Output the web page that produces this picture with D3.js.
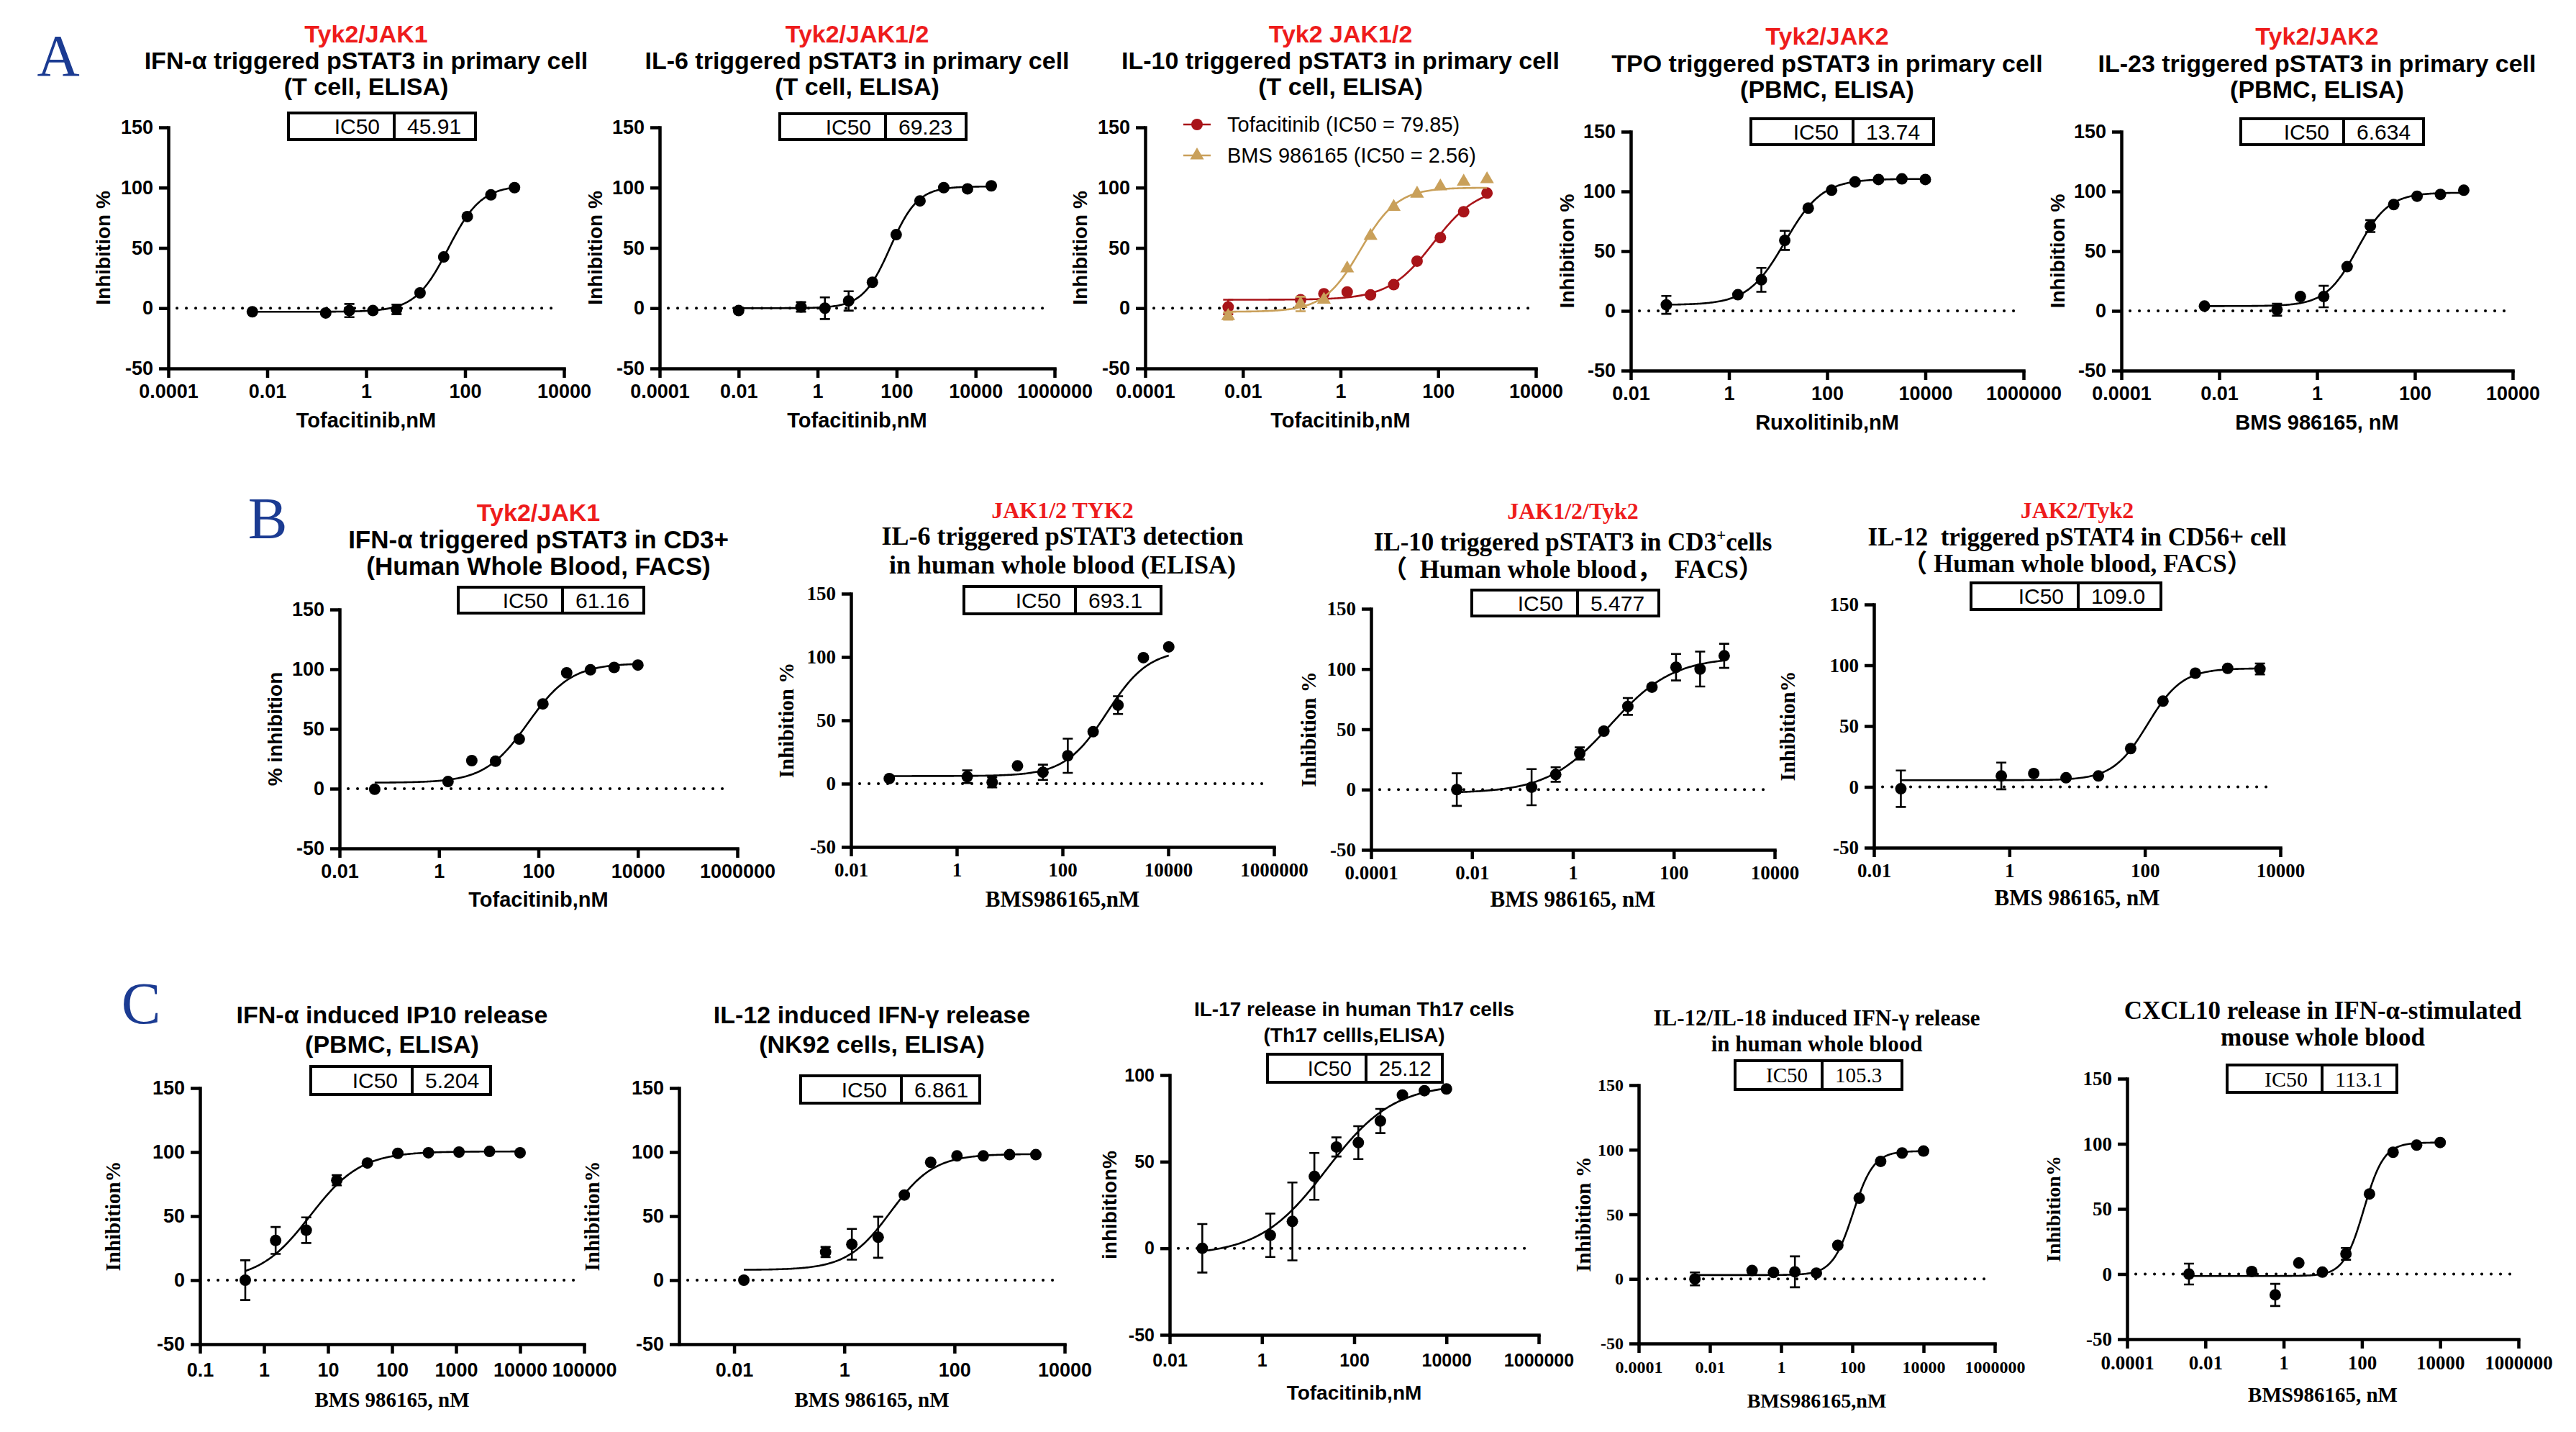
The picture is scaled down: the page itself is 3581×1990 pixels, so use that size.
<!DOCTYPE html>
<html><head><meta charset="utf-8">
<script src="https://cdn.jsdelivr.net/npm/d3@7"></script>
<style>body{margin:0;background:#fff}svg{display:block}text{white-space:pre}</style>
</head><body>
<svg id="c" width="3581" height="1990" xmlns="http://www.w3.org/2000/svg"></svg>
<script>
// ---------------- DATA ----------------
const xTicks8 = [1e-4, 1e-2, 1, 100, 1e4];
const xTicks10 = [1e-4, 1e-2, 1, 100, 1e4, 1e6];
const xTicks8b = [1e-2, 1, 100, 1e4, 1e6];
const xTicks6 = [1e-2, 1, 100, 1e4];
const xTicksC1 = [0.1, 1, 10, 100, 1000, 10000, 100000];
const yTicks = [-50, 0, 50, 100, 150];
const yTicksC3 = [-50, 0, 50, 100];

const ic50Labels = ['45.91','69.23','13.74','6.634','61.16','693.1','5.477','109.0','5.204','6.861','25.12','105.3','113.1'];
const legendA3 = ['Tofacitinib (IC50 = 79.85)', 'BMS 986165 (IC50 = 2.56)'];

// fit params: [bottom, top, logIC50, hill]
const concA1 = [0.005, 0.152, 0.457, 1.37, 4.12, 12.3, 37, 111, 333, 1000];
const inhA1  = [-3, -4, -2, -2, -1, 12.7, 42.5, 76, 94, 100];
const errA1  = [0, 0, 5.5, 0, 4, 0, 0, 0, 0, 0];
const fitA1  = [-3, 102, 1.66, 1.3];

const concA2 = [0.01, 0.38, 1.53, 6.1, 24.4, 97.7, 391, 1563, 6250, 25000];
const inhA2  = [-2, 1, 0, 6, 21.5, 61, 89, 100, 99, 101.5];
const errA2  = [0, 4, 9, 8, 0, 0, 0, 0, 0, 0];
const fitA2  = [0, 101, 1.84, 1.25];

const concA3 = [0.005, 0.152, 0.457, 1.37, 4.12, 12.3, 37, 111, 333, 1000];
const inhA3Tofa = [1, 7, 12, 13.5, 11, 19.5, 39, 58.5, 80, 95.5];
const errA3Tofa = [6, 0, 0, 0, 0, 0, 0, 0, 0, 0];
const fitA3Tofa = [7, 101, 1.90, 0.95];
const inhA3Bms  = [-6.5, 3.5, 7, 33, 60, 84, 95, 101, 105, 107];
const errA3Bms  = [3, 6, 0, 0, 0, 0, 0, 0, 0, 0];
const fitA3Bms  = [-3, 100, 0.41, 1.15];

const concA4 = [0.053, 1.52, 4.57, 13.7, 41.2, 123, 370, 1111, 3333, 10000];
const inhA4  = [5, 13.5, 26, 59, 86, 101, 108, 110, 110.5, 110];
const errA4  = [7.5, 0, 10, 8, 0, 0, 0, 0, 0, 0];
const fitA4  = [5, 110.5, 1.14, 1.15];

const concA5 = [0.005, 0.152, 0.457, 1.37, 4.12, 12.3, 37, 111, 333, 1000];
const inhA5  = [4, 1, 12, 12, 37, 71, 89, 96, 97.5, 101];
const errA5  = [0, 5, 0, 9, 0, 5, 0, 0, 0, 0];
const fitA5  = [4, 99, 0.82, 1.35];

const concB1 = [0.051, 1.52, 4.57, 13.7, 41.2, 123, 370, 1111, 3333, 10000];
const inhB1  = [-0.5, 6, 23.5, 23, 41.5, 71, 97, 99.5, 101.5, 103.5];
const errB1  = [0, 0, 0, 0, 0, 0, 0, 0, 0, 0];
const fitB1  = [5, 105, 1.79, 1.0];

const concB2 = [0.053, 1.58, 4.68, 14.1, 42.7, 126, 380, 1122, 3388, 10233];
const inhB2  = [4, 5.5, 1, 14, 9, 22, 41, 62, 99.5, 108];
const errB2  = [0, 5, 4, 0, 6, 13.5, 0, 7, 0, 0];
const fitB2  = [6, 106, 2.84, 1.1];

const concB3 = [0.005, 0.152, 0.457, 1.37, 4.12, 12.3, 37, 111, 333, 1000];
const inhB3  = [0, 2, 12.5, 30, 48.5, 69, 85, 101.5, 100, 111];
const errB3  = [13.5, 15, 6, 5, 0, 7, 0, 11, 14.5, 10];
const fitB3  = [-3, 110, 0.74, 0.7];

const concB4 = [0.025, 0.76, 2.29, 6.86, 20.6, 61.7, 185, 556, 1667, 5000];
const inhB4  = [-1.5, 9, 11, 7.5, 9, 31.5, 70.5, 93.5, 97.5, 97];
const errB4  = [15, 11, 0, 0, 0, 0, 0, 0, 0, 4.5];
const fitB4  = [5.5, 97.5, 2.04, 1.7];

const concC1 = [0.51, 1.52, 4.57, 13.7, 41.2, 123, 370, 1111, 3333, 10000];
const inhC1  = [0, 31, 39, 78, 91.5, 99, 99.5, 100, 100.5, 99.5];
const errC1  = [15.5, 10.5, 10, 4, 0, 0, 0, 0, 0, 0];
const fitC1  = [0, 100.5, 0.72, 1.1];

const concC2 = [0.015, 0.457, 1.37, 4.12, 12.3, 37, 111, 333, 1000, 3000];
const inhC2  = [0, 22, 28, 33.5, 66.5, 92, 97, 97, 98, 98];
const errC2  = [0, 4, 12, 16, 0, 0, 0, 0, 0, 0];
const fitC2  = [8, 98.5, 0.84, 1.1];

const concC3 = [0.051, 1.52, 4.57, 13.7, 41.2, 123, 370, 1111, 3333, 10000];
const inhC3  = [0, 7.5, 15.5, 41.5, 58.5, 61, 73.5, 88.5, 91, 92];
const errC3  = [14, 12.5, 22.5, 13.5, 5.5, 9.5, 7, 0, 0, 0];
const fitC3  = [-4, 95, 1.40, 0.6];

const concC4 = [0.0038, 0.153, 0.61, 2.44, 9.77, 39.1, 156, 625, 2500, 10000];
const inhC4  = [0, 6.5, 5, 5.5, 4.5, 26, 62.5, 91, 97.5, 99];
const errC4  = [5, 0, 0, 12, 0, 0, 0, 0, 0, 0];
const fitC4  = [3, 99, 2.02, 1.5];

const concC5 = [0.0038, 0.153, 0.61, 2.44, 9.77, 39.1, 156, 625, 2500, 10000];
const inhC5  = [0, 2, -16, 8.5, 1.5, 15.5, 61.5, 93.5, 99, 101];
const errC5  = [8, 0, 8.5, 0, 0, 4.5, 0, 0, 0, 0];
const fitC5  = [-1.5, 101, 2.05, 1.7];

// ---------------- STYLE / LAYOUT ----------------
const SANS = "'Liberation Sans', Arial, Helvetica, sans-serif";
const SERIF = "'Liberation Serif', 'Times New Roman', 'Noto Sans CJK SC', serif";
const RED = '#ee1c1c';
const BLUE = '#1b3b92';
const TOFA = '#a81419';
const BMS = '#c9a05a';
const MR = 8;

const layout = [
 {x0:234,x1:784,yT:177,yB:512,xDom:[1e-4,1e4],xt:xTicks8,yDom:[-50,150],yt:yTicks,
  red:'Tyk2/JAK1',redY:59,redF:SANS,redS:34,lines:['IFN-α triggered pSTAT3 in primary cell','(T cell, ELISA)'],lineY:[96,132],tF:SANS,tS:34,
  box:[401,157,661,194,548],bF:SANS,bS:30,val:ic50Labels[0],
  yTitle:'Inhibition %',yTX:143,yTF:SANS,yTS:28,xTitle:'Tofacitinib,nM',xTY:594,xTF:SANS,xTS:29,tkF:SANS,tkS:27,tkOff:41,
  series:[{conc:concA1,y:inhA1,err:errA1,fit:fitA1,color:'#000',shape:'circle'}]},
 {x0:917,x1:1466,yT:177,yB:512,xDom:[1e-4,1e6],xt:xTicks10,yDom:[-50,150],yt:yTicks,
  red:'Tyk2/JAK1/2',redY:59,redF:SANS,redS:34,lines:['IL-6 triggered pSTAT3 in primary cell','(T cell, ELISA)'],lineY:[96,132],tF:SANS,tS:34,
  box:[1084,158,1343,194,1231],bF:SANS,bS:30,val:ic50Labels[1],
  yTitle:'Inhibition %',yTX:827,yTF:SANS,yTS:28,xTitle:'Tofacitinib,nM',xTY:594,xTF:SANS,xTS:29,tkF:SANS,tkS:27,tkOff:41,
  series:[{conc:concA2,y:inhA2,err:errA2,fit:fitA2,color:'#000',shape:'circle'}]},
 {x0:1592,x1:2135,yT:177,yB:512,xDom:[1e-4,1e4],xt:xTicks8,yDom:[-50,150],yt:yTicks,
  red:'Tyk2 JAK1/2',redY:59,redF:SANS,redS:34,lines:['IL-10 triggered pSTAT3 in primary cell','(T cell, ELISA)'],lineY:[96,132],tF:SANS,tS:34,
  legend:true,
  yTitle:'Inhibition %',yTX:1501,yTF:SANS,yTS:28,xTitle:'Tofacitinib,nM',xTY:594,xTF:SANS,xTS:29,tkF:SANS,tkS:27,tkOff:41,
  series:[{conc:concA3,y:inhA3Tofa,err:errA3Tofa,fit:fitA3Tofa,color:TOFA,shape:'circle'},
          {conc:concA3,y:inhA3Bms,err:errA3Bms,fit:fitA3Bms,color:BMS,shape:'triangle'}]},
 {x0:2267,x1:2813,yT:183,yB:515,xDom:[1e-2,1e6],xt:xTicks8b,yDom:[-50,150],yt:yTicks,
  red:'Tyk2/JAK2',redY:62,redF:SANS,redS:34,lines:['TPO triggered pSTAT3 in primary cell','(PBMC, ELISA)'],lineY:[100,136],tF:SANS,tS:34,
  box:[2434,165,2688,201,2576],bF:SANS,bS:30,val:ic50Labels[2],
  yTitle:'Inhibition %',yTX:2178,yTF:SANS,yTS:28,xTitle:'Ruxolitinib,nM',xTY:597,xTF:SANS,xTS:29,tkF:SANS,tkS:27,tkOff:41,
  series:[{conc:concA4,y:inhA4,err:errA4,fit:fitA4,color:'#000',shape:'circle'}]},
 {x0:2949,x1:3493,yT:183,yB:515,xDom:[1e-4,1e4],xt:xTicks8,yDom:[-50,150],yt:yTicks,
  red:'Tyk2/JAK2',redY:62,redF:SANS,redS:34,lines:['IL-23 triggered pSTAT3 in primary cell','(PBMC, ELISA)'],lineY:[100,136],tF:SANS,tS:34,
  box:[3115,165,3369,201,3258],bF:SANS,bS:30,val:ic50Labels[3],
  yTitle:'Inhibition %',yTX:2860,yTF:SANS,yTS:28,xTitle:'BMS 986165, nM',xTY:597,xTF:SANS,xTS:29,tkF:SANS,tkS:27,tkOff:41,
  series:[{conc:concA5,y:inhA5,err:errA5,fit:fitA5,color:'#000',shape:'circle'}]},
 // Row B
 {x0:472,x1:1025,yT:847,yB:1179,xDom:[1e-2,1e6],xt:xTicks8b,yDom:[-50,150],yt:yTicks,
  red:'Tyk2/JAK1',redY:724,redF:SANS,redS:34,lines:['IFN-α triggered pSTAT3 in CD3+','(Human Whole Blood, FACS)'],lineY:[762,799],tF:SANS,tS:35,
  box:[637,816,895,852,782],bF:SANS,bS:30,val:ic50Labels[4],
  yTitle:'% inhibition',yTX:382,yTF:SANS,yTS:28,xTitle:'Tofacitinib,nM',xTY:1260,xTF:SANS,xTS:29,tkF:SANS,tkS:27,tkOff:41,
  series:[{conc:concB1,y:inhB1,err:errB1,fit:fitB1,color:'#000',shape:'circle'}]},
 {x0:1183,x1:1771,yT:825,yB:1177,xDom:[1e-2,1e6],xt:xTicks8b,yDom:[-50,150],yt:yTicks,
  red:'JAK1/2 TYK2',redY:720,redF:SERIF,redS:32,lines:['IL-6 triggered pSTAT3 detection','in human whole blood (ELISA)'],lineY:[757,797],tF:SERIF,tS:36,
  box:[1340,815,1614,853,1495],bF:SANS,bS:30,val:ic50Labels[5],
  yTitle:'Inhibition %',yTX:1093,yTF:SERIF,yTS:29,xTitle:'BMS986165,nM',xTY:1260,xTF:SERIF,xTS:31,tkF:SERIF,tkS:27,tkOff:41,
  series:[{conc:concB2,y:inhB2,err:errB2,fit:fitB2,color:'#000',shape:'circle'}]},
 {x0:1906,x1:2467,yT:846,yB:1181,xDom:[1e-4,1e4],xt:xTicks8,yDom:[-50,150],yt:yTicks,
  red:'JAK1/2/Tyk2',redY:721,redF:SERIF,redS:32,lines:[['IL-10 triggered pSTAT3 in CD3',{sup:'+'},'cells'],'（  Human whole blood，  FACS）'],lineY:[765,803],tF:SERIF,tS:35,
  box:[2046,820,2306,856,2193],bF:SANS,bS:30,val:ic50Labels[6],
  yTitle:'Inhibition %',yTX:1819,yTF:SERIF,yTS:29,xTitle:'BMS 986165, nM',xTY:1260,xTF:SERIF,xTS:31,tkF:SERIF,tkS:27,tkOff:41,
  series:[{conc:concB3,y:inhB3,err:errB3,fit:fitB3,color:'#000',shape:'circle'}]},
 {x0:2605,x1:3170,yT:840,yB:1178,xDom:[1e-2,1e4],xt:xTicks6,yDom:[-50,150],yt:yTicks,
  red:'JAK2/Tyk2',redY:720,redF:SERIF,redS:32,lines:['IL-12  triggered pSTAT4 in CD56+ cell','（ Human whole blood, FACS）'],lineY:[758,795],tF:SERIF,tS:35,
  box:[2740,810,3004,847,2889],bF:SANS,bS:30,val:ic50Labels[7],
  yTitle:'Inhibition%',yTX:2485,yTF:SERIF,yTS:29,xTitle:'BMS 986165, nM',xTY:1258,xTF:SERIF,xTS:31,tkF:SERIF,tkS:27,tkOff:41,
  series:[{conc:concB4,y:inhB4,err:errB4,fit:fitB4,color:'#000',shape:'circle'}]},
 // Row C
 {x0:278,x1:812,yT:1512,yB:1868,xDom:[0.1,1e5],xt:xTicksC1,yDom:[-50,150],yt:yTicks,
  lines:['IFN-α induced IP10 release','(PBMC, ELISA)'],lineY:[1422,1463],tF:SANS,tS:34,
  box:[432,1482,682,1521,573],bF:SANS,bS:30,val:ic50Labels[8],
  yTitle:'Inhibition%',yTX:157,yTF:SERIF,yTS:29,xTitle:'BMS 986165, nM',xTY:1955,xTF:SERIF,xTS:29,tkF:SANS,tkS:27,tkOff:45,
  series:[{conc:concC1,y:inhC1,err:errC1,fit:fitC1,color:'#000',shape:'circle'}]},
 {x0:944,x1:1480,yT:1512,yB:1868,xDom:[1e-3,1e4],xt:xTicks6,yDom:[-50,150],yt:yTicks,
  lines:['IL-12 induced IFN-γ release','(NK92 cells, ELISA)'],lineY:[1422,1463],tF:SANS,tS:34,
  box:[1113,1495,1362,1533,1253],bF:SANS,bS:30,val:ic50Labels[9],
  yTitle:'Inhibition%',yTX:823,yTF:SERIF,yTS:29,xTitle:'BMS 986165, nM',xTY:1955,xTF:SERIF,xTS:29,tkF:SANS,tkS:27,tkOff:45,
  series:[{conc:concC2,y:inhC2,err:errC2,fit:fitC2,color:'#000',shape:'circle'}]},
 {x0:1626,x1:2139,yT:1494,yB:1855,xDom:[1e-2,1e6],xt:xTicks8b,yDom:[-50,100],yt:yTicksC3,
  lines:['IL-17 release in human Th17 cells','(Th17 cellls,ELISA)'],lineY:[1412,1448],tF:SANS,tS:28,
  box:[1762,1465,2005,1504,1899],bF:SANS,bS:29,val:ic50Labels[10],
  yTitle:'inhibition%',yTX:1542,yTF:SANS,yTS:28,xTitle:'Tofacitinib,nM',xTY:1945,xTF:SANS,xTS:28,tkF:SANS,tkS:25,tkOff:44,
  series:[{conc:concC3,y:inhC3,err:errC3,fit:fitC3,color:'#000',shape:'circle'}]},
 {x0:2278,x1:2773,yT:1508,yB:1867,xDom:[1e-4,1e6],xt:xTicks10,yDom:[-50,150],yt:yTicks,
  lines:['IL-12/IL-18 induced IFN-γ release','in human whole blood'],lineY:[1425,1461],tF:SERIF,tS:31,
  box:[2412,1474,2644,1514,2533],bF:SERIF,bS:29,val:ic50Labels[11],
  yTitle:'Inhibition %',yTX:2201,yTF:SERIF,yTS:29,xTitle:'BMS986165,nM',xTY:1956,xTF:SERIF,xTS:28,tkF:SERIF,tkS:24,tkOff:41,
  series:[{conc:concC4,y:inhC4,err:errC4,fit:fitC4,color:'#000',shape:'circle'}]},
 {x0:2957,x1:3501,yT:1499,yB:1861,xDom:[1e-4,1e6],xt:xTicks10,yDom:[-50,150],yt:yTicks,
  lines:['CXCL10 release in IFN-α-stimulated','mouse whole blood'],lineY:[1416,1453],tF:SERIF,tS:35,
  box:[3096,1480,3332,1518,3228],bF:SERIF,bS:30,val:ic50Labels[12],
  yTitle:'Inhibition%',yTX:2854,yTF:SERIF,yTS:28,xTitle:'BMS986165, nM',xTY:1948,xTF:SERIF,xTS:29,tkF:SERIF,tkS:27,tkOff:42,
  series:[{conc:concC5,y:inhC5,err:errC5,fit:fitC5,color:'#000',shape:'circle'}]}
];

// ---------------- DRAW ----------------
const svg = d3.select('#c');
svg.append('rect').attr('width',3581).attr('height',1990).attr('fill','#fff');

function fourPL(f, lx){ const [b,t,ic,h]=f; return b + (t-b)/(1+Math.pow(10,(ic-lx)*h)); }

function marker(g, shape, cx, cy, color, r){
  if(shape==='circle'){
    g.append('circle').attr('cx',cx).attr('cy',cy).attr('r',r).attr('fill',color);
  } else {
    g.append('path').attr('d',d3.symbol(d3.symbolTriangle, 160)()).attr('transform',`translate(${cx},${cy})`).attr('fill',color);
  }
}

function drawPanel(p){
  const g = svg.append('g');
  const x = d3.scaleLog().domain(p.xDom).range([p.x0,p.x1]);
  const y = d3.scaleLinear().domain(p.yDom).range([p.yB,p.yT]);
  const cx = (p.x0+p.x1)/2;

  // zero dotted line
  g.append('line').attr('x1',p.x0+12).attr('x2',p.x1-10).attr('y1',y(0)).attr('y2',y(0))
    .attr('stroke','#000').attr('stroke-width',4).attr('stroke-linecap','round').attr('stroke-dasharray','0.1 12.9');

  // axes
  const ya = d3.axisLeft(y).tickValues(p.yt).tickSize(13).tickSizeOuter(0).tickPadding(8).tickFormat(d=>String(d));
  const xa = d3.axisBottom(x).tickValues(p.xt).tickSize(13).tickSizeOuter(0)
     .tickPadding(p.tkOff-13-0.71*p.tkS).tickFormat(d=>String(d));
  const gy = g.append('g').attr('transform',`translate(${p.x0},0)`).call(ya);
  const gx = g.append('g').attr('transform',`translate(0,${p.yB})`).call(xa);
  [gy,gx].forEach(a=>{
    a.selectAll('path,line').attr('stroke','#000').attr('stroke-width',4.5);
    a.select('path.domain').attr('stroke-linecap','square');
    a.selectAll('text').attr('fill','#000').style('font-family',p.tkF).style('font-size',p.tkS+'px').style('font-weight','bold');
  });

  // series
  p.series.forEach(s=>{
    const lx0 = Math.log10(d3.min(s.conc)), lx1 = Math.log10(d3.max(s.conc));
    const pts = d3.range(0,241).map(i=>{const lx = lx0+(lx1-lx0)*i/240; return [Math.pow(10,lx), fourPL(s.fit,lx)];});
    g.append('path').datum(pts).attr('fill','none').attr('stroke',s.color).attr('stroke-width',2.6)
      .attr('d', d3.line().x(d=>x(d[0])).y(d=>y(d[1])));
    s.conc.forEach((c,i)=>{
      const e = s.err[i];
      if(e>0){
        const px = x(c);
        g.append('path').attr('d',`M${px},${y(s.y[i]-e)}V${y(s.y[i]+e)}M${px-7},${y(s.y[i]-e)}H${px+7}M${px-7},${y(s.y[i]+e)}H${px+7}`)
          .attr('stroke',s.color).attr('stroke-width',2.6).attr('fill','none');
      }
    });
    s.conc.forEach((c,i)=> marker(g, s.shape, x(c), y(s.y[i]), s.color, MR));
  });

  // titles
  if(p.red){
    g.append('text').attr('x',cx).attr('y',p.redY).attr('text-anchor','middle').attr('fill',RED)
      .style('font-family',p.redF).style('font-size',p.redS+'px').style('font-weight','bold').text(p.red);
  }
  p.lines.forEach((l,i)=>{
    const t = g.append('text').attr('x',cx).attr('y',p.lineY[i]).attr('text-anchor','middle').attr('fill','#000')
      .attr('xml:space','preserve')
      .style('font-family',p.tF).style('font-size',p.tS+'px').style('font-weight','bold');
    if(typeof l === 'string'){ t.text(l); }
    else {
      let shift = 0;
      l.forEach(seg=>{
        if(typeof seg === 'string'){ t.append('tspan').attr('dy',-shift).text(seg); shift = 0; }
        else { t.append('tspan').attr('dy',-14).style('font-size',(p.tS*0.65)+'px').text(seg.sup); shift = -14; }
      });
    }
  });

  // IC50 box
  if(p.box){
    const [bx0,by0,bx1,by1,bd] = p.box;
    g.append('rect').attr('x',bx0).attr('y',by0).attr('width',bx1-bx0).attr('height',by1-by0)
      .attr('fill','#fff').attr('stroke','#000').attr('stroke-width',4);
    g.append('line').attr('x1',bd).attr('x2',bd).attr('y1',by0).attr('y2',by1).attr('stroke','#000').attr('stroke-width',4);
    const my = (by0+by1)/2;
    g.append('text').attr('x',bd-20).attr('y',my).attr('dy','0.36em').attr('text-anchor','end').attr('fill','#000')
      .style('font-family',p.bF).style('font-size',p.bS+'px').text('IC50');
    g.append('text').attr('x',bd+18).attr('y',my).attr('dy','0.36em').attr('text-anchor','start').attr('fill','#000')
      .style('font-family',p.bF).style('font-size',p.bS+'px').text(p.val);
  }

  // legend (A3)
  if(p.legend){
    const rows = [173,216];
    p.series.forEach((s,i)=>{
      g.append('line').attr('x1',1645).attr('x2',1683).attr('y1',rows[i]).attr('y2',rows[i]).attr('stroke',s.color).attr('stroke-width',2.6);
      marker(g, s.shape, 1664, rows[i], s.color, MR);
      g.append('text').attr('x',1706).attr('y',rows[i]).attr('dy','0.36em').attr('fill','#000')
        .style('font-family',SANS).style('font-size','29px').text(legendA3[i]);
    });
  }

  // axis titles
  const ym = (p.yT+p.yB)/2;
  g.append('text').attr('transform',`translate(${p.yTX},${ym}) rotate(-90)`).attr('dy','0.36em').attr('text-anchor','middle')
    .attr('fill','#000').style('font-family',p.yTF).style('font-size',p.yTS+'px').style('font-weight','bold').text(p.yTitle);
  g.append('text').attr('x',cx).attr('y',p.xTY).attr('text-anchor','middle').attr('fill','#000')
    .style('font-family',p.xTF).style('font-size',p.xTS+'px').style('font-weight','bold').text(p.xTitle);
}

layout.forEach(drawPanel);

// panel letters
[['A',81,105],['B',372,748],['C',196,1422]].forEach(([t,x,yb])=>{
  svg.append('text').attr('x',x).attr('y',yb).attr('text-anchor','middle').attr('fill',BLUE)
    .style('font-family',SERIF).style('font-size','82px').text(t);
});
</script>
</body></html>
